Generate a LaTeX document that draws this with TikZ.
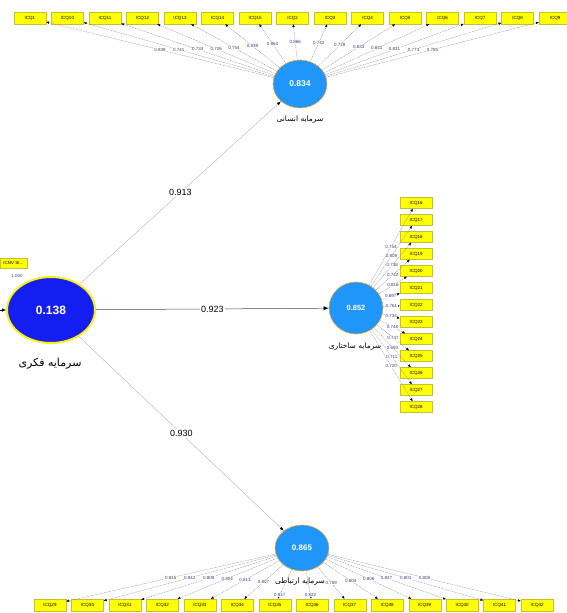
\documentclass[tikz,border=0pt]{standalone}
\usepackage{fontspec}
\setmainfont{Liberation Sans}
\newfontfamily\arabicfont[Script=Arabic]{DejaVu Sans}
\TeXXeTstate=1
\usetikzlibrary{arrows.meta,shapes.geometric}

\definecolor{lvblue}{RGB}{30,150,250}
\definecolor{lvrim}{RGB}{240,170,60}
\definecolor{icblue}{RGB}{20,30,240}
\definecolor{icrim}{RGB}{250,240,20}
\definecolor{ldtext}{RGB}{60,60,130}
\definecolor{itemfill}{RGB}{255,255,0}

\tikzset{
  item/.style={rectangle,fill=itemfill,draw=yellow!75!black,line width=0.2pt,
    minimum width=32pt,minimum height=12pt,inner sep=0pt,
    font=\fontsize{4.5}{5}\selectfont},
  latent/.style={ellipse,fill=lvblue,draw=lvrim,line width=0.6pt,
    minimum width=54pt,minimum height=48pt,inner sep=0pt,text=white},
  loading/.style={fill=white,inner sep=0.3pt,text=ldtext,
    font=\fontsize{4.5}{5}\selectfont},
  ind/.style={draw=gray,line width=0.3pt,dash pattern=on 1pt off 0.7pt,
    -{Latex[length=3pt,width=2.4pt,color=black]}},
  pathval/.style={fill=white,inner sep=1pt,text=black,
    font=\fontsize{9}{10}\selectfont},
  lvname/.style={font=\arabicfont\fontsize{7.5}{8}\selectfont}
}

\begin{document}
\begin{tikzpicture}[x=1pt,y=-1pt]
  \useasboundingbox (0,0) rectangle (567,613);

  % latent variables
  \node[ellipse,fill=icblue,draw=icrim,line width=2pt,minimum width=88pt,
    minimum height=66pt,text=white,font=\fontsize{12}{13}\selectfont\bfseries]
    (ic) at (51,310) {0.138};
  \node[latent,font=\fontsize{8.5}{9}\selectfont\bfseries] (hc) at (300,84) {0.834};
  \node[latent,minimum height=52pt,font=\fontsize{7.5}{8}\selectfont\bfseries] (sc) at (356,308) {0.852};
  \node[latent,minimum height=46pt,font=\fontsize{8}{9}\selectfont\bfseries] (rc) at (302,548) {0.865};

  \node[font=\arabicfont\fontsize{11}{12}\selectfont] (icname) at (50,364) {\beginR سرمایه فکری\endR};
  \node[lvname] (hcname) at (300,120) {\beginR سرمایه انسانی\endR};
  \node[lvname] (scname) at (355,347) {\beginR سرمایه ساختاری\endR};
  \node[lvname] (rcname) at (300,582) {\beginR سرمایه ارتباطی\endR};

  % indicators
  \begin{scope}[every node/.style={item}]
    \node (sv)  at (13.5,263) [minimum width=27pt,minimum height=10pt] {ICNV SI...};
    \node (q1)  at (30,18)    {ICQ1};
    \node (q10) at (67.5,18)  {ICQ10};
    \node (q11) at (105,18)   {ICQ11};
    \node (q12) at (142.5,18) {ICQ12};
    \node (q13) at (180,18)   {ICQ13};
    \node (q14) at (217.5,18) {ICQ14};
    \node (q15) at (255,18)   {ICQ15};
    \node (q2)  at (292.5,18) {ICQ2};
    \node (q3)  at (330,18)   {ICQ3};
    \node (q4)  at (367.5,18) {ICQ4};
    \node (q5)  at (405,18)   {ICQ5};
    \node (q6)  at (442.5,18) {ICQ6};
    \node (q7)  at (480,18)   {ICQ7};
    \node (q8)  at (517.5,18) {ICQ8};
    \node (q9)  at (555,18)   {ICQ9};

    \node (q16) at (416,203) [minimum height=11pt] {ICQ16};
    \node (q17) at (416,220) [minimum height=11pt] {ICQ17};
    \node (q18) at (416,237) [minimum height=11pt] {ICQ18};
    \node (q19) at (416,254) [minimum height=11pt] {ICQ19};
    \node (q20) at (416,271) [minimum height=11pt] {ICQ20};
    \node (q21) at (416,288) [minimum height=11pt] {ICQ21};
    \node (q22) at (416,305) [minimum height=11pt] {ICQ22};
    \node (q23) at (416,322) [minimum height=11pt] {ICQ23};
    \node (q24) at (416,339) [minimum height=11pt] {ICQ24};
    \node (q25) at (416,356) [minimum height=11pt] {ICQ25};
    \node (q26) at (416,373) [minimum height=11pt] {ICQ26};
    \node (q27) at (416,390) [minimum height=11pt] {ICQ27};
    \node (q28) at (416,407) [minimum height=11pt] {ICQ28};

    \node (q29) at (50,605)    {ICQ29};
    \node (q30) at (87.5,605)  {ICQ30};
    \node (q31) at (125,605)   {ICQ31};
    \node (q32) at (162.4,605) {ICQ32};
    \node (q33) at (199.8,605) {ICQ33};
    \node (q34) at (237.3,605) {ICQ34};
    \node (q35) at (274.8,605) {ICQ35};
    \node (q36) at (312.2,605) {ICQ36};
    \node (q37) at (349.7,605) {ICQ37};
    \node (q38) at (387.1,605) {ICQ38};
    \node (q39) at (424.6,605) {ICQ39};
    \node (q40) at (462.1,605) {ICQ40};
    \node (q41) at (499.5,605) {ICQ41};
    \node (q42) at (537,605)   {ICQ42};
  \end{scope}

  \node[loading] (svval) at (17,276) {1.000};
  \coordinate (in) at (0,310);
  \draw[-{Latex[length=4pt,width=3.5pt]}] (in) -- (ic.west);

  % outer loadings
  \begin{scope}[every node/.style={loading}]
    \begin{scope}[every edge/.style={ind}]
      \path (hc) edge node {0.838} (q1);
      \path (hc) edge node {0.741} (q10);
      \path (hc) edge node {0.734} (q11);
      \path (hc) edge node {0.726} (q12);
      \path (hc) edge node {0.754} (q13);
      \path (hc) edge node {0.838} (q14);
      \path (hc) edge node {0.863} (q15);
      \path (hc) edge node {0.866} (q2);
      \path (hc) edge node {0.742} (q3);
      \path (hc) edge node {0.729} (q4);
      \path (hc) edge node {0.833} (q5);
      \path (hc) edge node {0.841} (q6);
      \path (hc) edge node {0.831} (q7);
      \path (hc) edge node {0.773} (q8);
      \path (hc) edge node {0.785} (q9);

      \path (sc) edge node {0.754} (q16);
      \path (sc) edge node {0.808} (q17);
      \path (sc) edge node {0.736} (q18);
      \path (sc) edge node {0.742} (q19);
      \path (sc) edge node {0.816} (q20);
      \path (sc) edge node {0.697} (q21);
      \path (sc) edge node {0.761} (q22);
      \path (sc) edge node {0.734} (q23);
      \path (sc) edge node {0.748} (q24);
      \path (sc) edge node {0.747} (q25);
      \path (sc) edge node {0.693} (q26);
      \path (sc) edge node {0.711} (q27);
      \path (sc) edge node {0.720} (q28);

      \path (rc) edge node {0.815} (q29);
      \path (rc) edge node {0.812} (q30);
      \path (rc) edge node {0.809} (q31);
      \path (rc) edge node {0.804} (q32);
      \path (rc) edge node {0.813} (q33);
      \path (rc) edge node {0.807} (q34);
      \path (rc) edge node[pos=0.86] {0.817} (q35);
      \path (rc) edge node[pos=0.86] {0.822} (q36);
      \path (rc) edge node {0.759} (q37);
      \path (rc) edge node {0.804} (q38);
      \path (rc) edge node {0.806} (q39);
      \path (rc) edge node {0.827} (q40);
      \path (rc) edge node {0.801} (q41);
      \path (rc) edge node {0.808} (q42);
    \end{scope}
  \end{scope}

  % path coefficients
  \begin{scope}[every node/.style={pathval}]
    \path (ic) edge[draw=gray!60,line width=0.4pt,-{Latex[length=4pt,width=3pt,color=black]}]
      node {0.913} (hc);
    \path (ic) edge[draw=black!70,line width=0.5pt,-{Latex[length=5pt,width=4pt,color=black]}]
      node {0.923} (sc);
    \path (ic) edge[draw=gray!60,line width=0.4pt,-{Latex[length=4pt,width=3pt,color=black]}]
      node {0.930} (rc);
  \end{scope}

\end{tikzpicture}
\end{document}
